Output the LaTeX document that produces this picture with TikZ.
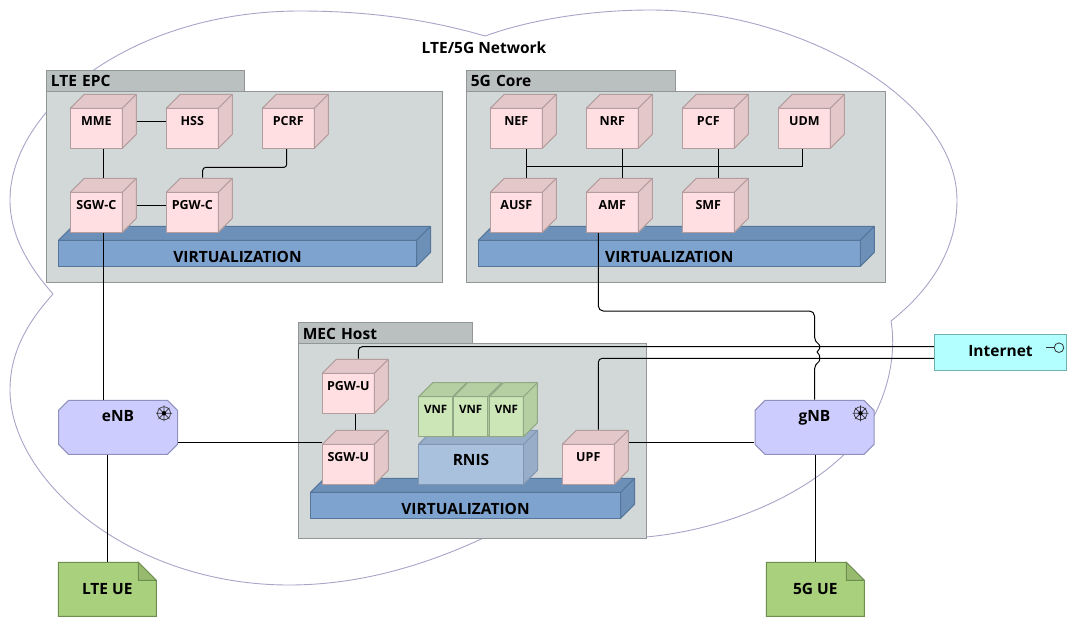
\documentclass[tikz,border=0pt]{standalone}
\usepackage{fontspec}
\setmainfont{Open Sans}
\usepackage{xcolor}
\usetikzlibrary{calc}
\definecolor{cloudline}{HTML}{A8A4C8}
\definecolor{panelfill}{HTML}{D2D8D8}
\definecolor{panelline}{HTML}{929696}
\definecolor{tabfill}{HTML}{BABFBF}
\definecolor{cubefront}{HTML}{FFDFE1}
\definecolor{cubeside}{HTML}{E4C8C9}
\definecolor{cubeline}{HTML}{B39D9E}
\definecolor{virtfront}{HTML}{7EA3CF}
\definecolor{virtside}{HTML}{6C90B8}
\definecolor{virtline}{HTML}{56759A}
\definecolor{rnisfront}{HTML}{A9C1DD}
\definecolor{rnisside}{HTML}{98AEC8}
\definecolor{rnisline}{HTML}{8298B2}
\definecolor{vnffront}{HTML}{CDE6B8}
\definecolor{vnfside}{HTML}{B5CFA3}
\definecolor{vnfline}{HTML}{90A883}
\definecolor{enbfill}{HTML}{CCCCFF}
\definecolor{enbline}{HTML}{9090BC}
\definecolor{netfill}{HTML}{B3FFFF}
\definecolor{netline}{HTML}{70B0B0}
\definecolor{uefill}{HTML}{A9D07D}
\definecolor{uefold}{HTML}{97BA6F}
\definecolor{ueline}{HTML}{6E8E50}

\begin{document}
\begin{tikzpicture}[
  x=1pt,y=-1pt,
  font=\fontsize{12.5pt}{15pt}\bfseries\selectfont,
  big/.style={font=\fontsize{15.5pt}{17pt}\bfseries\selectfont},
  prism/.style n args={3}{inner sep=0pt,align=center,
    execute at begin node={\hspace*{-14pt}},
    path picture={
      \coordinate (pa) at ([xshift=.5pt,yshift=.5pt]path picture bounding box.south west);
      \coordinate (pb) at ([xshift=-.5pt,yshift=-.5pt]path picture bounding box.north east);
      \coordinate (pc) at ([xshift=-14pt,yshift=-14pt]pb);
      \draw[fill=#1,draw=#3,line width=1pt] (pa) rectangle (pc);
      \draw[fill=#2,draw=#3,line width=1pt,line join=round] (pa |- pc) -- ([xshift=14pt,yshift=14pt]pa |- pc)
        -- (pb) -- ([xshift=14pt,yshift=14pt]pc |- pa) -- (pc |- pa) -- (pc) -- cycle;
      \draw[draw=#3,line width=1pt] (pc) -- (pb);
    }},
  cube/.style={prism={cubefront}{cubeside}{cubeline},text width=67pt,minimum height=55pt,text height=9pt,text depth=1pt},
  vnf/.style={prism={vnffront}{vnfside}{vnfline},text width=49pt,minimum height=55pt,text height=8pt,text depth=1pt,
    font=\fontsize{11.5pt}{14pt}\bfseries\selectfont},
  rnis/.style={prism={rnisfront}{rnisside}{rnisline},text width=120pt,minimum height=55pt,text height=18pt,text depth=1pt,big},
  virt/.style={prism={virtfront}{virtside}{virtline},text width=#1,minimum height=41pt,text height=34pt,text depth=2pt,big},
  panel/.style={draw=panelline,fill=panelfill,line width=1pt,inner sep=0pt},
  tab/.style={draw=panelline,fill=tabfill,line width=1pt,inner xsep=4.5pt,inner ysep=0pt,text width=#1,align=left,
    text height=12pt,text depth=0pt,big},
  enb/.style={inner sep=0pt,minimum width=120pt,minimum height=55pt,text height=1pt,text depth=13pt,big,
    path picture={
      \coordinate (pa) at ([xshift=.5pt,yshift=.5pt]path picture bounding box.south west);
      \coordinate (pb) at ([xshift=-.5pt,yshift=-.5pt]path picture bounding box.north east);
      \draw[fill=enbfill,draw=enbline,line width=1pt]
        ([xshift=10pt]pa) -- ([yshift=10pt]pa) -- ([yshift=-10pt]pa |- pb) -- ([xshift=10pt]pa |- pb)
        -- ([xshift=-10pt]pb) -- ([yshift=-10pt]pb) -- ([yshift=10pt]pb |- pa) -- ([xshift=-10pt]pb |- pa) -- cycle;
    }},
  ue/.style={inner sep=0pt,minimum width=99pt,minimum height=55pt,big,
    path picture={
      \coordinate (pa) at ([xshift=.5pt,yshift=.5pt]path picture bounding box.south west);
      \coordinate (pb) at ([xshift=-.5pt,yshift=-.5pt]path picture bounding box.north east);
      \draw[fill=uefill,draw=ueline,line width=1pt] (pa) -- (pa |- pb) -- ([xshift=-18pt]pb) -- ([yshift=-18pt]pb) -- (pb |- pa) -- cycle;
      \draw[fill=uefold,draw=ueline,line width=1pt] ([xshift=-18pt]pb) -- ([xshift=-18pt,yshift=-18pt]pb) -- ([yshift=-18pt]pb) -- cycle;
    }},
  net/.style={draw=netline,fill=netfill,line width=1pt,inner sep=0pt,minimum width=132.4pt,minimum height=36pt,
    text height=9pt,text depth=1.5pt,big},
  link/.style={black,line width=1pt},
  icon/.style={black!80,line width=.7pt},
  wheel/.pic={
    \draw[icon] (0,0) circle[radius=6.5pt];
    \draw[icon] (-8,0) -- (8,0) (0,-8) -- (0,8) (-5.5,-5.5) -- (5.5,5.5) (-5.5,5.5) -- (5.5,-5.5);
    \fill[black] (0,0) circle[radius=2.2pt];
  }
]
\useasboundingbox (0,0) rectangle (1077,627);

% ---------------- network cloud ----------------
\draw[cloudline,line width=.9pt]
  (53,294) .. controls (25,262) and (10,232) .. (10,200)
  .. controls (10,110) and (130,11) .. (300,11)
  .. controls (370,11) and (430,20) .. (485,36)
  -- (488,35) .. controls (530,20) and (590,10) .. (650,10)
  .. controls (800,10) and (957,100) .. (957,200)
  .. controls (957,250) and (930,290) .. (891,321)
  .. controls (896,350) and (890,385) .. (874,416)
  .. controls (840,480) and (740,530) .. (640,537.5)
  -- (500,530) .. controls (430,565) and (360,585) .. (289,585)
  .. controls (130,585) and (10,480) .. (10,390)
  .. controls (10,355) and (25,325) .. (53,294);
\node[big] (title) at (484,48) {LTE/5G Network};

% ---------------- LTE EPC ----------------
\node[panel,minimum width=396.2pt,minimum height=190.6pt] (lteBox) at (244.6,187) {};
\node[tab=189pt,minimum height=21.7pt] (lteTab) at (145.4,80.85) {LTE EPC};
\node[virt=373pt] (lteVirt) at (244.5,246.3) {VIRTUALIZATION};
\node[cube] (MME)  at (103.3,121.3) {MME};
\node[cube] (HSS)  at (199.3,121.3) {HSS};
\node[cube] (PCRF) at (295.3,121.3) {PCRF};
\node[cube] (SGWC) at (103.3,205.3) {SGW-C};
\node[cube] (PGWC) at (199.3,205.3) {PGW-C};

% ---------------- 5G core ----------------
\node[panel,minimum width=419.4pt,minimum height=190.6pt] (coreBox) at (676,187) {};
\node[tab=200pt,minimum height=21.7pt] (coreTab) at (570.8,80.85) {5G Core};
\node[virt=397pt] (coreVirt) at (676.3,246.3) {VIRTUALIZATION};
\node[cube] (NEF)  at (523.3,121.3) {NEF};
\node[cube] (NRF)  at (619.3,121.3) {NRF};
\node[cube] (PCF)  at (715.3,121.3) {PCF};
\node[cube] (UDM)  at (811.3,121.3) {UDM};
\node[cube] (AUSF) at (523.3,205.3) {AUSF};
\node[cube] (AMF)  at (619.3,205.3) {AMF};
\node[cube] (SMF)  at (715.3,205.3) {SMF};

% ---------------- MEC host ----------------
\node[panel,minimum width=348pt,minimum height=195pt] (mecBox) at (472.3,440.8) {};
\node[tab=165.4pt,minimum height=20.6pt] (mecTab) at (385.5,333) {MEC Host};
\node[virt=325pt] (mecVirt) at (472.5,498.3) {VIRTUALIZATION};
\node[cube] (PGWU) at (355.3,386.3) {PGW-U};
\node[cube] (SGWU) at (355.3,457.3) {SGW-U};
\node[rnis] (RNIS) at (478,457.3) {RNIS};
\node[vnf] (vnfA) at (442.6,409.7) {VNF};
\node[vnf] (vnfB) at (477.6,409.7) {VNF};
\node[vnf] (vnfC) at (513.4,409.7) {VNF};
\node[cube] (UPF) at (595.3,457.3) {UPF};

% ---------------- access and outside ----------------
\node[enb] (eNB) at (118,427.3) {eNB};
\node[enb] (gNB) at (814.5,427.3) {gNB};
\pic at ([xshift=46pt,yshift=14pt]eNB.center) {wheel};
\pic at ([xshift=46pt,yshift=14pt]gNB.center) {wheel};
\node[ue] (lteUE) at (107.3,589.3) {LTE UE};
\node[ue] (nrUE)  at (815.3,589.3) {5G UE};
\node[net] (Internet) at (1000.5,352.3) {Internet};
\draw[icon,line width=.8pt] ([xshift=58.5pt,yshift=4.6pt]Internet.center) circle[radius=4.8pt];
\draw[icon,line width=.8pt] ([xshift=45.5pt,yshift=4.6pt]Internet.center) -- ([xshift=53.7pt,yshift=4.6pt]Internet.center);

% ---------------- links ----------------
\draw[link] (MME) -- (HSS);
\draw[link] (MME) -- (SGWC);
\draw[link] (SGWC) -- (PGWC);
\draw[link,rounded corners=3pt] ([xshift=-8.6pt]PCRF.south) -- ++(0,18.4) -| ([xshift=3.4pt]PGWC.north);
\draw[link] (SGWC.south) -- (SGWC.south |- eNB.north);

\coordinate (trunk) at (526.3,166.7);
\draw[link] ([xshift=3pt]NEF.south) -- ([xshift=3pt]AUSF.north);
\draw[link] ([xshift=3pt]NRF.south) -- ([xshift=3pt]AMF.north);
\draw[link] ([xshift=3pt]PCF.south) -- ([xshift=3pt]SMF.north);
\draw[link] ([xshift=-9pt]UDM.south) |- (trunk);

% amf line hops over the two internet lines
\coordinate (hopA) at (814.5,342);
\draw[link,rounded corners=5pt] ([xshift=-21pt]AMF.south) -- ++(0,78) -| (hopA)
  .. controls (820,345) and (820,349) .. (814.5,352)
  .. controls (820,355) and (820,361) .. (814.5,364) -- (gNB.north);
\draw[link,rounded corners=4pt] ([xshift=3pt]PGWU.north) |- ([yshift=5.6pt]Internet.west);
\draw[link,rounded corners=4pt] ([xshift=3pt]UPF.north) |- ([yshift=-6pt]Internet.west);
\draw[link] (PGWU) -- (SGWU);
\draw[link] ([yshift=-15pt]eNB.east) -- ([yshift=15pt]SGWU.west);
\draw[link] ([yshift=15pt]UPF.east) -- ([yshift=-15pt]gNB.west);
\draw[link] (lteUE.north |- eNB.south) -- (lteUE.north);
\draw[link] (nrUE.north |- gNB.south) -- (nrUE.north);
\end{tikzpicture}
\end{document}
